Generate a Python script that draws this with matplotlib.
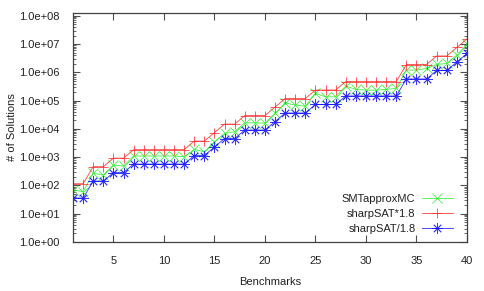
import matplotlib
matplotlib.use("Agg")
import matplotlib.pyplot as plt
from matplotlib.ticker import FixedLocator, FuncFormatter, LogLocator, NullFormatter
import numpy as np

plt.rcParams['font.family'] = ['Liberation Sans', 'DejaVu Sans']

benchmarks = list(range(1, 41))
sharpsat = [64, 64, 256, 256, 512, 512, 1024, 1024, 1024, 1024,
            1024, 1024, 2048, 2048, 4096, 8192, 8192, 16384, 16384, 16384,
            32768, 65536, 65536, 65536, 131072, 131072, 131072, 262144, 262144, 262144,
            262144, 262144, 262144, 1048576, 1048576, 1048576, 2097152, 2097152, 4194304, 8388608]
smt_approx = [69, 60, 268, 234, 525, 485, 1100, 1100, 1100, 1100,
              1100, 1030, 1880, 1550, 3500, 6900, 7900, 16400, 16400, 15800,
              35400, 83000, 69000, 64000, 179000, 136000, 136000, 325000, 250000, 234000,
              234000, 250000, 270000, 1200000, 1200000, 1370000, 1900000, 2050000, 4100000, 9700000]
factor = 1.8
sharp_hi = [v * factor for v in sharpsat]
sharp_lo = [v / factor for v in sharpsat]

x_ticks = [5, 10, 15, 20, 25, 30, 35, 40]
y_ticks = [1e0, 1e1, 1e2, 1e3, 1e4, 1e5, 1e6, 1e7, 1e8]

W, H = 485, 291
fig = plt.figure(figsize=(W / 100, H / 100), dpi=100)
ax = fig.add_axes([73 / W, (H - 242) / H, (467 - 73) / W, (242 - 13) / H])

lw = 0.6
mew = 0.6
ax.plot(benchmarks, smt_approx, color='#22ee22', lw=lw, marker='x', ms=6.5, mew=mew,
        alpha=0.85, label='SMTapproxMC')
ax.plot(benchmarks, sharp_hi, color='#ff2020', lw=lw, marker='+', ms=7.5, mew=mew,
        alpha=0.85, label='sharpSAT*1.8')
ax.plot(benchmarks, sharp_lo, color='#1010ff', lw=lw, marker=(8, 2, 0), ms=7.5, mew=mew,
        alpha=0.85, label='sharpSAT/1.8')

ax.set_yscale('log')
ax.set_xlim(1, 40)
ax.set_ylim(1, 1.25e8)
ax.xaxis.set_major_locator(FixedLocator(x_ticks))
ax.yaxis.set_major_locator(FixedLocator(y_ticks))
ax.yaxis.set_major_formatter(FuncFormatter(lambda v, p: f"{v:.1e}"))
ax.yaxis.set_minor_locator(LogLocator(base=10, subs=np.arange(2, 10), numticks=20))
ax.yaxis.set_minor_formatter(NullFormatter())

tc = '#505050'
for s in ax.spines.values():
    s.set_color('#404040')
    s.set_linewidth(0.9)
ax.tick_params(axis='both', which='major', direction='in', length=5, width=0.8, color=tc,
               top=True, right=True, labelsize=8, labelcolor='#222222')
ax.tick_params(axis='x', which='major', pad=10)
ax.tick_params(axis='y', which='major', pad=10)
ax.tick_params(axis='y', which='minor', direction='in', length=2.5, width=0.6, color=tc,
               right=True, left=True)

ax.set_xlabel('Benchmarks', fontsize=8, color='#222222', labelpad=8)
ax.set_ylabel('# of Solutions', fontsize=8, color='#222222')
ax.yaxis.set_label_coords((17 - 73) / 394, 0.5)

leg = ax.legend(loc='lower right', bbox_to_anchor=(0.985, 0.0), frameon=False,
                markerfirst=False, fontsize=8, handlelength=2.8, handletextpad=0.55,
                labelspacing=0.42, borderaxespad=0.35)
for t in leg.get_texts():
    t.set_color('#222222')

fig.savefig('out.png', dpi=100)
